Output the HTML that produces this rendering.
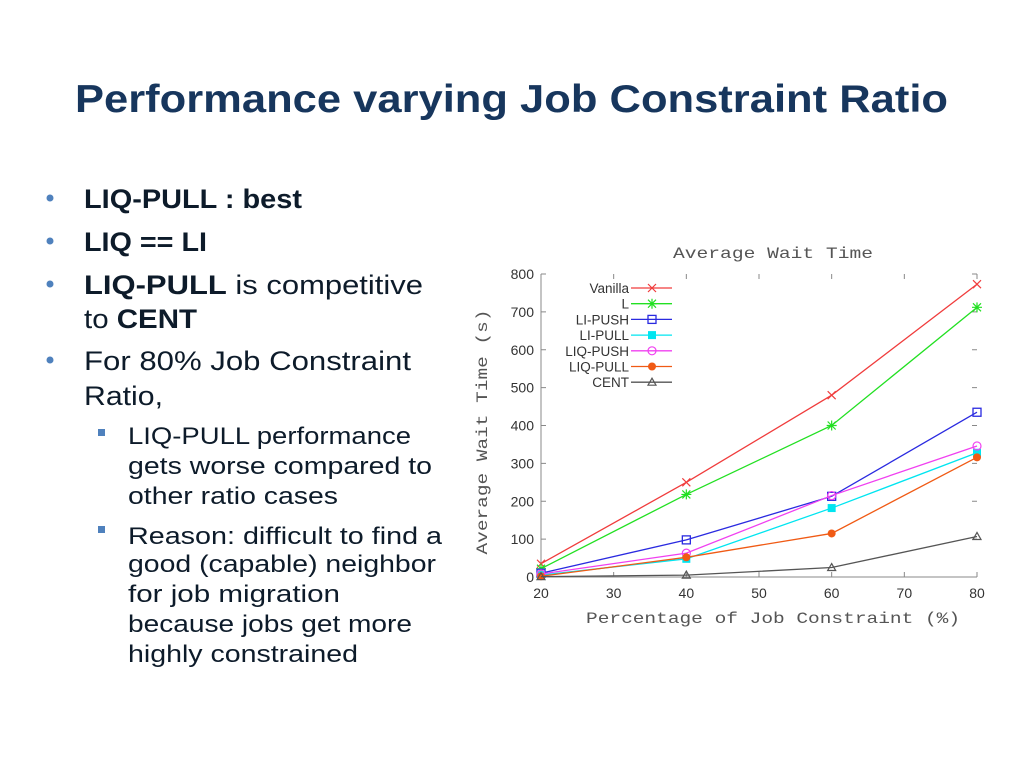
<!DOCTYPE html>
<html><head><meta charset="utf-8"><style>
html,body{margin:0;padding:0;background:#fff;}
svg{display:block;}
</style></head><body>
<svg width="1024" height="768" viewBox="0 0 1024 768" xmlns="http://www.w3.org/2000/svg">
<rect width="1024" height="768" fill="#fff"/>
<text x="75" y="112" font-family="Liberation Sans, sans-serif" font-weight="bold" font-size="39" fill="#17365D" textLength="873" lengthAdjust="spacingAndGlyphs">Performance varying Job Constraint Ratio</text>
<g font-family="Liberation Sans, sans-serif" fill="#0d1b2a">
<circle cx="50" cy="198" r="3.5" fill="#4F81BD"/><circle cx="50" cy="241" r="3.5" fill="#4F81BD"/><circle cx="50" cy="284" r="3.5" fill="#4F81BD"/><circle cx="50" cy="360" r="3.5" fill="#4F81BD"/>
<text x="84" y="208" font-size="27" font-weight="bold" textLength="218" lengthAdjust="spacingAndGlyphs">LIQ-PULL : best</text>
<text x="84" y="251" font-size="27" font-weight="bold" textLength="123" lengthAdjust="spacingAndGlyphs">LIQ == LI</text>
<text x="84" y="294" font-size="27" textLength="339" lengthAdjust="spacingAndGlyphs"><tspan font-weight="bold">LIQ-PULL</tspan> is competitive</text>
<text x="84" y="328" font-size="27" textLength="113" lengthAdjust="spacingAndGlyphs">to <tspan font-weight="bold">CENT</tspan></text>
<text x="84" y="370" font-size="27" textLength="327" lengthAdjust="spacingAndGlyphs">For 80% Job Constraint</text>
<text x="84" y="405" font-size="27" textLength="79" lengthAdjust="spacingAndGlyphs">Ratio,</text>
<rect x="98" y="429" width="7" height="7" fill="#4F81BD"/><rect x="98" y="526" width="7" height="7" fill="#4F81BD"/>
<text x="128" y="444" font-size="24" textLength="283" lengthAdjust="spacingAndGlyphs">LIQ-PULL performance</text>
<text x="128" y="474" font-size="24" textLength="304" lengthAdjust="spacingAndGlyphs">gets worse compared to</text>
<text x="128" y="504" font-size="24" textLength="210" lengthAdjust="spacingAndGlyphs">other ratio cases</text>
<text x="128" y="544" font-size="24" textLength="314" lengthAdjust="spacingAndGlyphs">Reason: difficult to find a</text>
<text x="128" y="572" font-size="24" textLength="308" lengthAdjust="spacingAndGlyphs">good (capable) neighbor</text>
<text x="128" y="602" font-size="24" textLength="212" lengthAdjust="spacingAndGlyphs">for job migration</text>
<text x="128" y="632" font-size="24" textLength="284" lengthAdjust="spacingAndGlyphs">because jobs get more</text>
<text x="128" y="662" font-size="24" textLength="230" lengthAdjust="spacingAndGlyphs">highly constrained</text>
</g>
<g id="chart"></g>
</svg>
<script>
const categories = [20, 40, 60, 80];
const seriesNames = ["Vanilla","L","LI-PUSH","LI-PULL","LIQ-PUSH","LIQ-PULL","CENT"];
const vanilla = [35, 250, 480, 773];
const lSeries = [22, 218, 400, 712];
const liPush = [10, 98, 213, 435];
const liPull = [5, 48, 182, 328];
const liqPush = [8, 63, 215, 346];
const liqPull = [2, 52, 115, 316];
const cent = [1, 5, 25, 107];
const xTicks = [20,30,40,50,60,70,80];
const yTicks = [0,100,200,300,400,500,600,700,800];

const NS="http://www.w3.org/2000/svg";
const g=document.getElementById('chart');
const X0=541,X1=977,Y0=577,Y1=274;
const xs=v=>X0+(v-20)/60*(X1-X0);
const ys=v=>Y0-v/800*(Y0-Y1);
function mk(t,a,p){const e=document.createElementNS(NS,t);for(const k in a)e.setAttribute(k,a[k]);(p||g).appendChild(e);return e;}
const styles=[
 {c:"#f03c3c",m:"x"},{c:"#22e022",m:"star"},{c:"#2a2ae0",m:"sq"},{c:"#00e5f0",m:"fsq"},
 {c:"#f040f0",m:"circ"},{c:"#f05a14",m:"fcirc"},{c:"#555",m:"tri"}];
const data=[vanilla,lSeries,liPush,liPull,liqPush,liqPull,cent];
function marker(m,x,y,c,p){
 if(m==="x"){mk('path',{d:`M${x-4} ${y-4}L${x+4} ${y+4}M${x-4} ${y+4}L${x+4} ${y-4}`,stroke:c,'stroke-width':1.2,fill:'none'},p);}
 else if(m==="star"){mk('path',{d:`M${x-4} ${y-4}L${x+4} ${y+4}M${x-4} ${y+4}L${x+4} ${y-4}M${x-5} ${y}L${x+5} ${y}M${x} ${y-5}L${x} ${y+5}`,stroke:c,'stroke-width':1.2,fill:'none'},p);}
 else if(m==="sq"){mk('rect',{x:x-4,y:y-4,width:8,height:8,stroke:c,'stroke-width':1.3,fill:'none'},p);}
 else if(m==="fsq"){mk('rect',{x:x-4,y:y-4,width:8,height:8,fill:c},p);}
 else if(m==="circ"){mk('circle',{cx:x,cy:y,r:4,stroke:c,'stroke-width':1.2,fill:'none'},p);}
 else if(m==="fcirc"){mk('circle',{cx:x,cy:y,r:4,fill:c},p);}
 else {mk('path',{d:`M${x} ${y-4}L${x+4} ${y+3}L${x-4} ${y+3}Z`,stroke:c,'stroke-width':1.2,fill:'none'},p);}
}
// axes
const ax=mk('g',{});
mk('line',{x1:X0,y1:Y0,x2:X1,y2:Y0,stroke:'#888','stroke-width':1},ax);
mk('line',{x1:X0,y1:Y0,x2:X0,y2:Y1,stroke:'#888','stroke-width':1},ax);
xTicks.forEach(t=>{const x=xs(t);
 mk('line',{x1:x,y1:Y0,x2:x,y2:Y0-5,stroke:'#888'},ax);mk('line',{x1:x,y1:Y1,x2:x,y2:Y1+5,stroke:'#888'},ax);
 const tx=mk('text',{x:x,y:Y0+21,'text-anchor':'middle','font-family':'Liberation Sans, sans-serif','font-size':14,fill:'#333'},ax);tx.textContent=t;
 });
yTicks.forEach(t=>{const y=ys(t);
 mk('line',{x1:X0,y1:y,x2:X0+5,y2:y,stroke:'#888'},ax);mk('line',{x1:X1,y1:y,x2:X1-5,y2:y,stroke:'#888'},ax);
 const tx=mk('text',{x:X0-7,y:y+5,'text-anchor':'end','font-family':'Liberation Sans, sans-serif','font-size':14,fill:'#333'},ax);tx.textContent=t;
 });
let t=mk('text',{x:773,y:258,'text-anchor':'middle','font-family':'Liberation Mono, monospace','font-size':16,fill:'#555',textLength:200,lengthAdjust:'spacingAndGlyphs'});t.textContent='Average Wait Time';

t=mk('text',{x:773,y:623,'text-anchor':'middle','font-family':'Liberation Mono, monospace','font-size':16,fill:'#555',textLength:374,lengthAdjust:'spacingAndGlyphs'});t.textContent='Percentage of Job Constraint (%)';

t=mk('text',{x:0,y:0,'text-anchor':'middle','font-family':'Liberation Mono, monospace','font-size':16,fill:'#555',textLength:245,lengthAdjust:'spacingAndGlyphs',transform:'translate(487,432) rotate(-90)'});t.textContent='Average Wait Time (s)';

// series
data.forEach((arr,i)=>{const s=styles[i];
 const sg=mk('g',{});
 mk('polyline',{points:arr.map((v,j)=>xs(categories[j])+','+ys(v)).join(' '),fill:'none',stroke:s.c,'stroke-width':1.3},sg);
 arr.forEach((v,j)=>marker(s.m,xs(categories[j]),ys(v),s.c,sg));
 // legend
 const ly=288+i*15.7;
 const lg=mk('g',{});
 const lt=mk('text',{x:629,y:ly+5,'text-anchor':'end','font-family':'Liberation Sans, sans-serif','font-size':13.5,fill:'#333'},lg);lt.textContent=seriesNames[i];
 mk('line',{x1:631,y1:ly,x2:672,y2:ly,stroke:s.c,'stroke-width':1.3},lg);
 marker(s.m,652,ly,s.c,lg);
});
</script>
</body></html>
